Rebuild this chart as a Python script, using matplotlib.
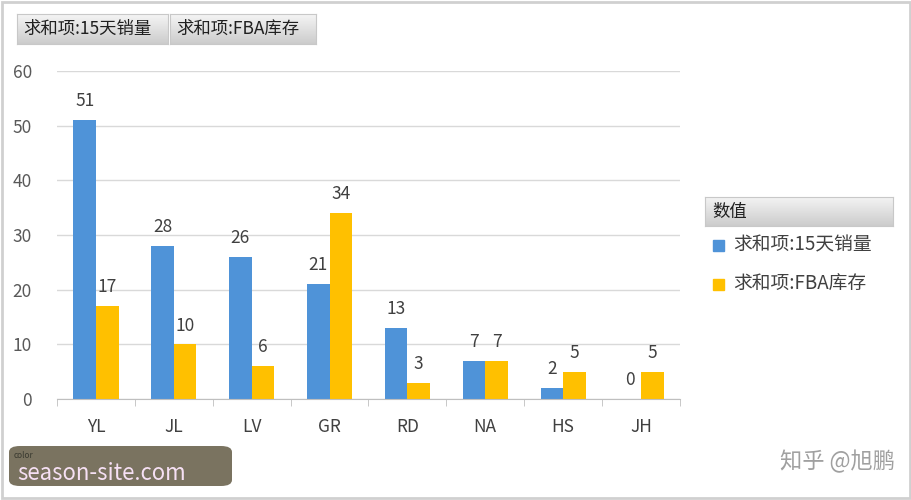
import numpy as np
import matplotlib.pyplot as plt
from matplotlib.patches import FancyBboxPatch, Rectangle

plt.rcParams['font.family'] = ['Noto Sans CJK SC', 'DejaVu Sans']

categories = ["YL", "JL", "LV", "GR", "RD", "NA", "HS", "JH"]
sales_15d = [51, 28, 26, 21, 13, 7, 2, 0]
fba_stock = [17, 10, 6, 34, 3, 7, 5, 5]
series_names = ["求和项:15天销量", "求和项:FBA库存"]

blue = "#4f93d8"
gold = "#ffc000"
txt = "#404040"

fig = plt.figure(figsize=(9.12, 5), dpi=100)
fig.patch.set_facecolor("white")

# outer light frame
fig.add_artist(Rectangle((0.002, 0.004), 0.996, 0.992, transform=fig.transFigure,
                         fill=False, edgecolor="#d0d0d0", linewidth=2))

ax = fig.add_axes([0.0625, 0.202, 0.683, 0.656])
x = np.arange(len(categories))
w = 0.29
b1 = ax.bar(x - w / 2, sales_15d, w, color=blue)
b2 = ax.bar(x + w / 2, fba_stock, w, color=gold)

for bars, vals in ((b1, sales_15d), (b2, fba_stock)):
    for r, v in zip(bars, vals):
        ax.annotate(str(v), (r.get_x() + r.get_width() / 2, v), xytext=(0, 7),
                    textcoords="offset points", ha="center", va="bottom",
                    fontsize=12.5, color=txt)

ax.set_xlim(-0.5, len(categories) - 0.5)
ax.set_ylim(0, 60)
ax.set_yticks(range(0, 61, 10))
ax.set_xticks(x)
ax.set_xticklabels(categories)
ax.set_xticks(np.arange(-0.5, len(categories)), minor=True)
ax.tick_params(axis="x", which="major", length=0, pad=14, labelsize=12.5, labelcolor=txt)
ax.tick_params(axis="x", which="minor", length=5, color="#bfbfbf")
ax.tick_params(axis="y", length=0, pad=18, labelsize=12.5, labelcolor="#595959")
ax.grid(axis="y", color="#d9d9d9", linewidth=1)
ax.set_axisbelow(True)
for s in ("top", "right", "left"):
    ax.spines[s].set_visible(False)
ax.spines["bottom"].set_color("#bfbfbf")


def gradient_box(x0, y0, wd, ht, label, fs=12.5):
    bax = fig.add_axes([x0, y0, wd, ht])
    grad = np.linspace(0.96, 0.80, 50).reshape(-1, 1)
    bax.imshow(np.dstack([grad, grad, grad]), aspect="auto", extent=(0, 1, 0, 1))
    bax.set_xlim(0, 1)
    bax.set_ylim(0, 1)
    bax.set_xticks([])
    bax.set_yticks([])
    for s in bax.spines.values():
        s.set_color("#c8c8c8")
    bax.text(0.04, 0.5, label, ha="left", va="center", fontsize=fs, color="#202020")
    return bax


# field buttons at top
gradient_box(17 / 912, 1 - 44 / 500, 151 / 912, 30 / 500, series_names[0])
gradient_box(170 / 912, 1 - 44 / 500, 146 / 912, 30 / 500, series_names[1])

# legend
gradient_box(705 / 912, 1 - 226 / 500, 188 / 912, 29 / 500, "数值")
for i, (nm, c) in enumerate(zip(series_names, (blue, gold))):
    yy = 1 - (245 + 39 * i) / 500
    fig.add_artist(Rectangle((713 / 912, yy - 0.011), 11 / 912, 11 / 500,
                             transform=fig.transFigure, color=c))
    fig.text(733 / 912, yy, nm, fontsize=13.5, color=txt, va="center", ha="left")

# watermark boxes
fig.add_artist(FancyBboxPatch((9 / 912, 1 - 486 / 500), 223 / 912, 40 / 500,
                              boxstyle="round,pad=0,rounding_size=0.012",
                              transform=fig.transFigure, facecolor="#7a7360",
                              edgecolor="none"))
fig.text(14 / 912, 1 - 455 / 500, "color", fontsize=6, color="#3a3a30", va="center")
fig.text(17 / 912, 1 - 474 / 500, "season-site.com", fontsize=16, color="#f6e0f4",
         va="center", ha="left")
fig.text(895 / 912, 1 - 462 / 500, "知乎 @旭鹏", fontsize=16, color="#a0a0a0",
         va="center", ha="right")

fig.savefig("out.png", dpi=100)
